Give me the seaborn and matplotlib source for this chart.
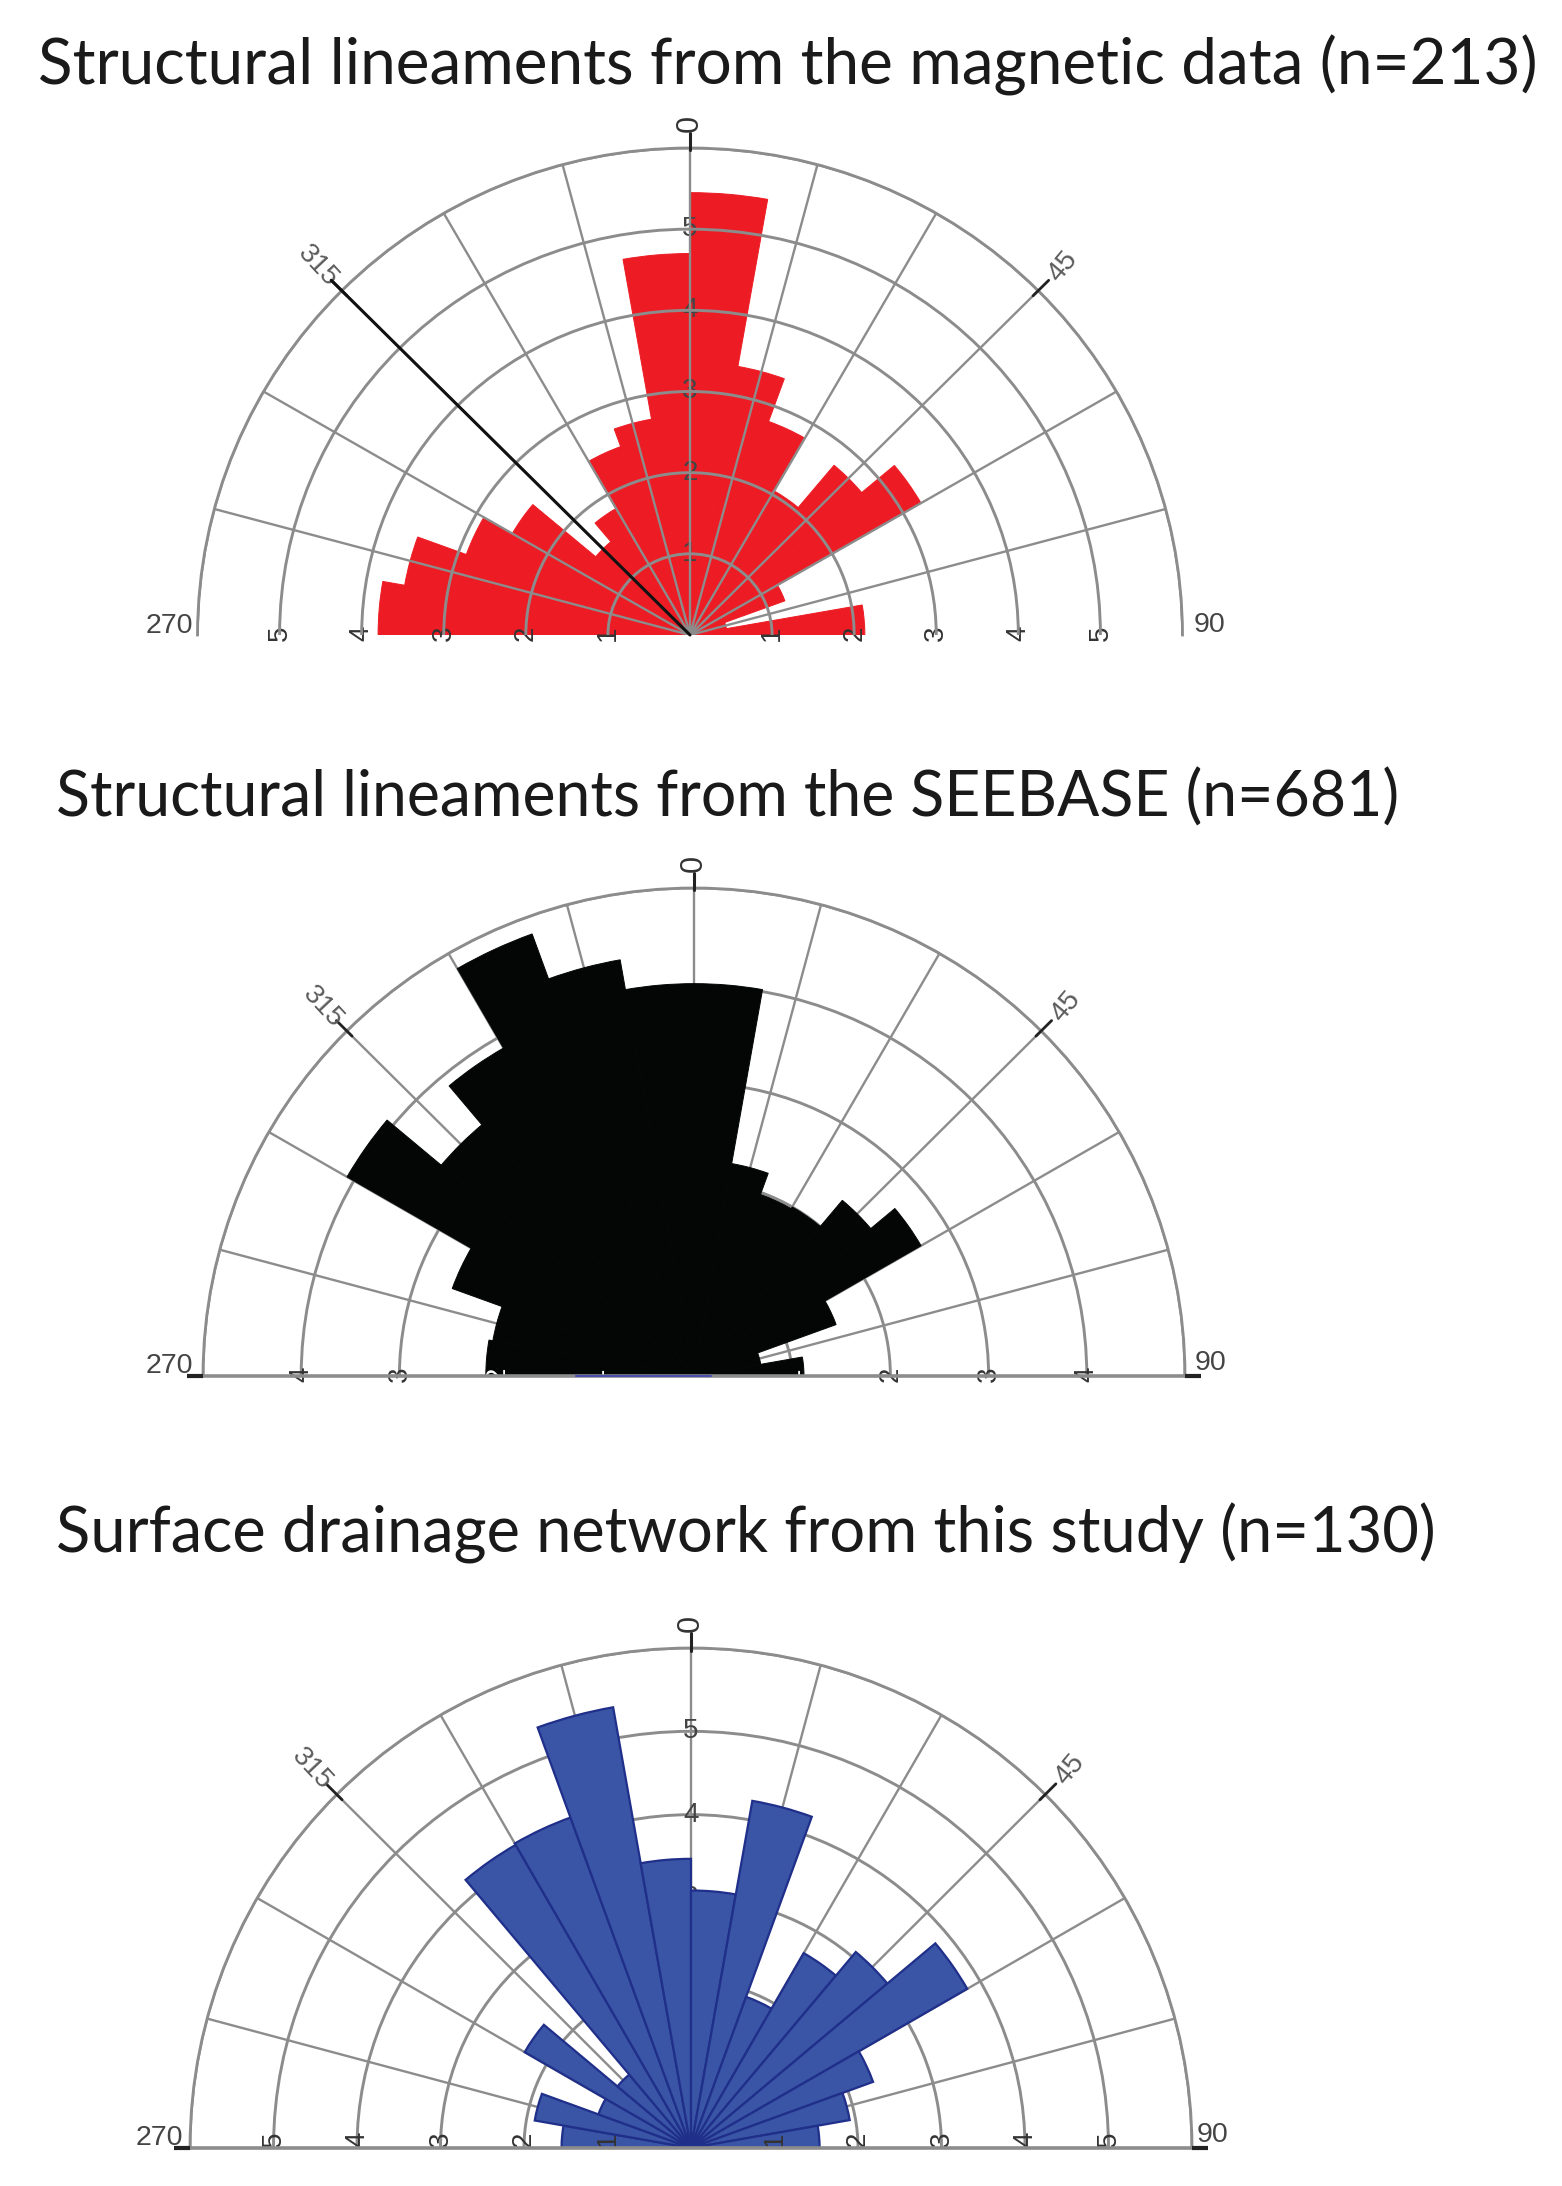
import numpy as np
import pandas as pd
import seaborn as sns
from matplotlib import pyplot as plt

W, H = 1562, 2186

# bin centres in degrees, 10 degree bins from -90 to 90
bin_centres = [-85, -75, -65, -55, -45, -35, -25, -15, -5, 5, 15, 25, 35, 45, 55, 65, 75, 85]
magnetic = [3.8, 3.53, 2.9, 2.5, 1.5, 1.8, 2.47, 2.7, 4.7, 5.45, 3.36, 2.8, 2.05, 2.73, 3.25, 1.23, 0.45, 2.13]
seebase = [2.12, 2.08, 2.62, 4.08, 3.36, 3.88, 4.82, 4.33, 4.02, 4.02, 2.21, 1.98, 2.0, 2.35, 2.67, 1.54, 0.69, 1.12]
drainage = [1.55, 1.9, 1.18, 2.3, 1.15, 4.2, 4.22, 5.37, 3.47, 3.09, 4.23, 1.93, 2.7, 3.07, 3.82, 2.32, 1.93, 1.54]
titles = [
    "Structural lineaments from the magnetic data (n=213)",
    "Structural lineaments from the SEEBASE (n=681)",
    "Surface drainage network from this study (n=130)",
]

sns.set_theme(style="white")
plt.rcParams['font.family'] = ['Liberation Sans', 'DejaVu Sans']

GREY = "#8c8c8c"
TEXT = "#5c5c5c"
PT = 0.72  # points per pixel at dpi 100

fig = plt.figure(figsize=(W / 100, H / 100), dpi=100, facecolor="white")


def rose(values, cx, cy, Rx, Ry, rmax, color, edge, grid_on_top, baseline, top_labels,
         side_labels, label_y, offs_270, offs_90):
    # the half disc sits in the middle of a square axes box, so the box is 2R high
    ax = fig.add_axes([(cx - Rx) / W, (H - cy - Ry / 2) / H, 2 * Rx / W, 2 * Ry / H], projection="polar")
    ax.set_aspect("auto")
    df = pd.DataFrame({"theta": np.radians(bin_centres), "count": values})
    sns.barplot(data=df, x="theta", y="count", native_scale=True, width=1, color=color,
                saturation=1, errorbar=None, edgecolor=edge, linewidth=1.6 if edge != color else 0.7, ax=ax)
    ax.set_theta_zero_location("N")
    ax.set_theta_direction(-1)
    ax.set_thetamin(-90)
    ax.set_thetamax(90)
    ax.set_rlim(0, rmax)
    ax.set_xlabel("")
    ax.set_ylabel("")
    ax.set_xticks(np.radians(np.arange(-75, 76, 15)))
    ax.set_yticks(range(1, rmax + 1))
    ax.tick_params(labelbottom=False, labelleft=False, labelright=False, labeltop=False, length=0)
    ax.xaxis.grid(True, color=GREY, linewidth=1.7)
    ax.yaxis.grid(True, color=GREY, linewidth=2.1)
    ax.set_axisbelow(not grid_on_top)
    ax.spines["polar"].set_color(GREY)
    ax.spines["polar"].set_linewidth(2.0)
    # polar draw() switches these back on, so hide them by width
    ax.spines["start"].set_linewidth(0)
    ax.spines["end"].set_linewidth(0)

    # base line and the black tips on the main directions
    if baseline:
        over = rmax * (1 + 16 / Rx)
        for side in (-90, 90):
            t = np.radians(side)
            ax.plot([t, t], [0, rmax], color=GREY, lw=2.6, clip_on=False, zorder=3,
                    solid_capstyle="butt")
            ax.plot([t, t], [rmax, over], color="#222222", lw=3, clip_on=False, zorder=3,
                    solid_capstyle="butt")
    ax.plot([0, 0], [rmax * 0.995, rmax * 1.03], color="#222222", lw=2.2, clip_on=False, zorder=3)
    for side in (-45, 45):
        t = np.radians(side)
        ax.plot([t, t], [rmax * 0.985, rmax * 1.03], color="#222222", lw=2, clip_on=False, zorder=3)

    ax.text(0, rmax * 1.05, "0", rotation=90, ha="center", va="center", color="#333333", fontsize=22)
    ax.text(np.radians(-45), rmax * 1.07, "315", rotation=-47, ha="center", va="center", color=TEXT, fontsize=20)
    ax.text(np.radians(45), rmax * 1.07, "45", rotation=50, ha="center", va="center", color=TEXT, fontsize=20)
    ax.annotate("270", (np.radians(-90), rmax), xytext=(offs_270[0] * PT, offs_270[1] * PT),
                textcoords="offset points", ha="right", va="baseline", color="#444444",
                fontsize=20.5, annotation_clip=False)
    ax.annotate("90", (np.radians(90), rmax), xytext=(offs_90[0] * PT, offs_90[1] * PT),
                textcoords="offset points", ha="left", va="baseline", color="#444444",
                fontsize=20.5, annotation_clip=False)

    # ring values lie sideways along the base, cut by the base in the top two roses
    for r in side_labels:
        for side, bar in ((-90, values[0]), (90, values[-1])):
            on_black = color == "#040606" and r <= bar
            ax.annotate(str(r), (np.radians(side), r), xytext=(0, label_y * PT), textcoords="offset points",
                        rotation=90, ha="center", va="bottom", color="white" if on_black else "#333333",
                        fontsize=20, annotation_clip=False, clip_on=True, zorder=2.2)
    for r in top_labels:
        ax.text(0, r, str(r), ha="center", va="center", color="#444444", fontsize=20,
                zorder=2.2 if grid_on_top else 0.7)
    return ax


ax1 = rose(magnetic, 690, 635, 492.5, 487, 6, "#ed1c24", "#ed1c24", True, False, [1, 2, 3, 4, 5],
           [1, 2, 3, 4, 5], -6, (-4, 2), (11, 3))
t = np.radians(-45)
ax1.plot([t, t], [0, 6.18], color="#111111", lw=2.2, clip_on=False, zorder=3)

ax2 = rose(seebase, 694, 1376, 491, 488, 5, "#040606", "#040606", False, True, [],
           [1, 2, 3, 4], -6, (-10, 3), (10, 6))
# the navy sliver left on the base under the black fan
for side, reach in ((-90, 1.2), (90, 0.17)):
    ax2.plot([np.radians(side)] * 2, [0, reach], color="#4a4fb0", lw=1.5, clip_on=False, zorder=4)

ax3 = rose(drainage, 691, 2148, 501, 500, 6, "#3a55a5", "#1f2f8a", False, True, [1, 2, 3, 4, 5],
           [1, 2, 3, 4, 5], 1, (-7, 3), (5, 6))

for title, x, y, size in zip(titles, [38, 56, 56], [65, 798, 1533], [45.97, 45.06, 45.5]):
    fig.text(x / W, 1 - y / H, title, family=['Lato', 'DejaVu Sans'], fontsize=size,
             color="#1a1a1a", ha="left", va="center")

fig.savefig("out.png", dpi=100)
